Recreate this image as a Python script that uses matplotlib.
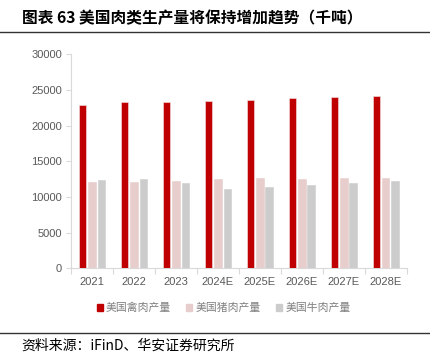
import matplotlib
matplotlib.use("Agg")
import matplotlib.pyplot as plt
import numpy as np
from matplotlib.patches import Patch
from matplotlib.lines import Line2D

plt.rcParams['font.family'] = ['Noto Sans CJK SC', 'DejaVu Sans']

categories = ["2021", "2022", "2023", "2024E", "2025E", "2026E", "2027E", "2028E"]
poultry = [22900, 23300, 23300, 23450, 23600, 23870, 24000, 24150]
pork = [12100, 12100, 12240, 12520, 12620, 12520, 12620, 12660]
beef = [12380, 12520, 11920, 11120, 11400, 11680, 12000, 12240]
series_names = ["美国禽肉产量", "美国猪肉产量", "美国牛肉产量"]
colors = ["#C00000", "#E8CDCD", "#CCCCCC"]
yticks = [0, 5000, 10000, 15000, 20000, 25000, 30000]

W, H = 431, 355
fig = plt.figure(figsize=(W / 100, H / 100), dpi=100)
ax = fig.add_axes([71 / W, (H - 268.3) / H, (406.7 - 71) / W, 214 / H])

x = np.arange(len(categories))
bw = 0.18
step = 0.225
for i, (vals, c) in enumerate(zip([poultry, pork, beef], colors)):
    ax.bar(x + (i - 1) * step, vals, width=bw, color=c, edgecolor="#F4E6E6" if i == 0 else c,
           linewidth=0.4, zorder=3)

ax.set_xlim(-0.5, len(categories) - 0.5)
ax.set_ylim(0, 30000)
ax.set_yticks(yticks)
ax.set_yticklabels([str(v) for v in yticks])
ax.set_xticks(x)
ax.set_xticklabels(categories)
ax.set_xticks(np.arange(-0.5, len(categories), 1.0), minor=True)
ax.tick_params(axis='x', which='major', length=0, pad=6, labelsize=8, labelcolor="#595959")
ax.tick_params(axis='x', which='minor', length=4, color="#D9D9D9", width=0.8)
ax.tick_params(axis='y', length=3.5, color="#D9D9D9", width=0.8, pad=3, labelsize=8,
               labelcolor="#595959")
for lab in ax.get_xticklabels() + ax.get_yticklabels():
    lab.set_family(['Liberation Sans', 'DejaVu Sans'])
for s in ["top", "right"]:
    ax.spines[s].set_visible(False)
for s in ["left", "bottom"]:
    ax.spines[s].set_color("#D9D9D9")
    ax.spines[s].set_linewidth(0.8)

handles = [Patch(facecolor=c, edgecolor=c) for c in colors]
leg = fig.legend(handles, series_names, loc='center', bbox_to_anchor=(223.5 / W, 1 - 308 / H),
                 ncol=3, frameon=False, fontsize=7.8, handlelength=0.55, handleheight=0.55,
                 handletextpad=0.3, columnspacing=1.4, labelcolor="#7F7F7F")

fig.text(22 / W, 1 - 18 / H, "图表 63 美国肉类生产量将保持增加趋势（千吨）", fontsize=11.3,
         fontweight='bold', va='center', ha='left', color="#000000")
fig.add_artist(Line2D([0, 1], [1 - 31.5 / H] * 2, color="#333333", linewidth=1.0,
                      transform=fig.transFigure))
fig.add_artist(Line2D([0, 1], [1 - 333.3 / H] * 2, color="#333333", linewidth=1.0,
                      transform=fig.transFigure))
fig.text(21 / W, 1 - 346 / H, "资料来源：iFinD、华安证券研究所", fontsize=10, va='center',
         ha='left', color="#000000")

fig.savefig("out.png", dpi=100)
